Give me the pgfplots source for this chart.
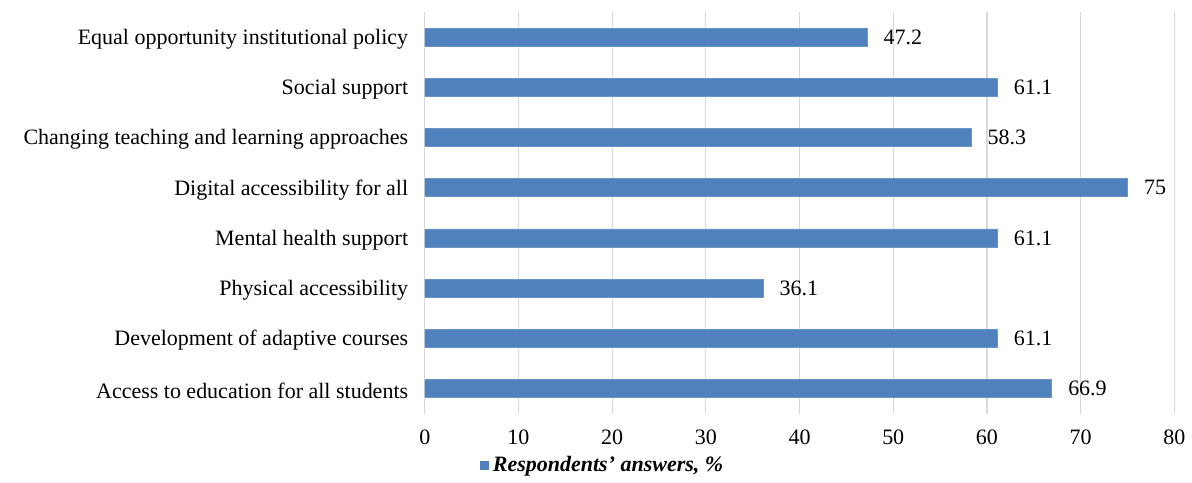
\documentclass[border=0pt]{standalone}
\usepackage{fontspec}
\setmainfont{Liberation Serif}
\usepackage{pgfplots}
\pgfplotsset{compat=1.18}
\definecolor{barblue}{HTML}{4F81BD}
\definecolor{gridgray}{HTML}{D9D9D9}
\begin{document}
\begin{tikzpicture}
\begin{axis}[
  name=ax,
  xbar,
  scale only axis,
  width=375pt,
  height=201pt,
  xmin=0, xmax=80,
  ymin=-0.5, ymax=7.5,
  xtick={0,10,...,80},
  ytick={0,...,7},
  yticklabels={Access to education for all students,Development of adaptive courses,Physical accessibility,Mental health support,Digital accessibility for all,Changing teaching and learning approaches,Social support,Equal opportunity institutional policy},
  xmajorgrids,
  major grid style={gridgray, line width=0.6pt},
  axis line style={draw=none},
  tick style={draw=none},
  font=\fontsize{11}{13}\selectfont,
  /pgf/number format/assume math mode=true,
  yticklabel style={xshift=-0.5pt, yshift=-1pt},
  xticklabel style={yshift=-4.5pt},
  bar width=9pt,
  nodes near coords,
  nodes near coords style={font=\fontsize{11}{13}\selectfont, anchor=west, xshift=4.8pt},
  legend style={at={(0.2387,0)}, anchor=center, yshift=-26pt, draw=none,
    font=\fontsize{11}{13}\selectfont\bfseries\itshape},
  legend image code/.code={\fill[barblue] (0pt,-2pt) rectangle (4pt,2pt);},
]
\addplot[fill=barblue, draw=barblue!85!white, line width=0.4pt] coordinates {
  (66.9,0)
  (61.1,1)
  (36.1,2)
  (61.1,3)
  (75,4)
  (58.3,5)
  (61.1,6)
  (47.2,7)
};
\addlegendentry{Respondents’ answers, \%}
\end{axis}
\path ([shift={(-212.5pt,-31.5pt)}]ax.south west) rectangle ([shift={(8.5pt,6pt)}]ax.north east);
\end{tikzpicture}
\end{document}
